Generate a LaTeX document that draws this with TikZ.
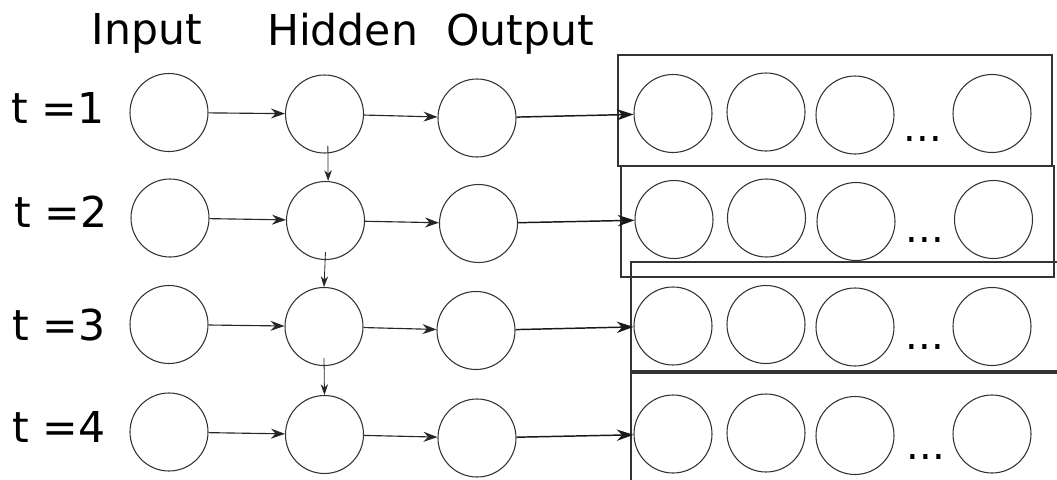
\documentclass[tikz,border=0pt]{standalone}
\usepackage{fontspec}
\setmainfont{DejaVu Sans}
\usetikzlibrary{arrows.meta}
\begin{document}
\begin{tikzpicture}[x=0.75pt,y=-0.75pt,
  neuron/.style={circle,draw=black!80,line width=0.8pt,minimum size=58.5pt,inner sep=0pt},
  lbl/.style={font=\fontsize{31.9pt}{36pt}\selectfont,anchor=base,inner sep=0pt},
  con/.style={draw=black!85,line width=0.85pt,-{Stealth[length=10.5pt,width=7.5pt,inset=3.5pt]}},
  vcon/.style={draw=black!85,line width=0.6pt,-{Stealth[length=8pt,width=5.5pt,inset=2.5pt]}},
  bcon/.style={draw=black!90,line width=1.1pt,-{Stealth[length=12.5pt,width=8.5pt,inset=4pt]}},
  layer/.style={draw=black!80,line width=1.2pt,inner sep=0pt},
  dots/.style={font=\fontsize{30pt}{30pt}\selectfont,inner sep=0pt,anchor=base}
]
\useasboundingbox (0,0) rectangle (1057,479);
\clip (0,0) rectangle (1057,479);
% output layer boxes
\node[layer,minimum width=325.5pt,minimum height=83.25pt] (box1) at (835,110.5) {};
\node[layer,minimum width=324.75pt,minimum height=83.25pt] (box2) at (837.5,221.5) {};
\node[layer,minimum width=333pt,minimum height=81.75pt] (box3) at (853,316.5) {};
\node[layer,minimum width=333pt,minimum height=95.25pt] (box4) at (853,436.5) {};
% titles
\node[lbl] (tin) at (147,44) {Input};
\node[lbl] (thid) at (342.5,45) {Hidden};
\node[lbl] (tout) at (520,45) {Output};
\node[lbl] (t1) at (58,123) {t =1};
\node[lbl] (t2) at (61,227) {t =2};
\node[lbl] (t3) at (59,340) {t =3};
\node[lbl] (t4) at (59,442) {t =4};
% main columns
\node[neuron] (in1) at (169,112.5) {};
\node[neuron] (in2) at (170,218) {};
\node[neuron] (in3) at (169,324.5) {};
\node[neuron] (in4) at (169,432) {};
\node[neuron] (h1) at (324.5,114) {};
\node[neuron] (h2) at (325.5,220.5) {};
\node[neuron] (h3) at (324,326.5) {};
\node[neuron] (h4) at (324.5,434.5) {};
\node[neuron] (o1) at (477,118) {};
\node[neuron] (o2) at (478.5,223.5) {};
\node[neuron] (o3) at (476,330.5) {};
\node[neuron] (o4) at (477,438) {};
% box neurons
\node[neuron] (b11) at (673,113.5) {};
\node[neuron] (b12) at (766,112) {};
\node[neuron] (b13) at (855,115) {};
\node[neuron] (b14) at (992,113.5) {};
\node[neuron] (b21) at (674,219.5) {};
\node[neuron] (b22) at (766.5,218) {};
\node[neuron] (b23) at (856,221.5) {};
\node[neuron] (b24) at (993.5,219.5) {};
\node[neuron] (b31) at (673,326) {};
\node[neuron] (b32) at (766,324.5) {};
\node[neuron] (b33) at (855,327) {};
\node[neuron] (b34) at (992,326.5) {};
\node[neuron] (b41) at (673,434) {};
\node[neuron] (b42) at (766,433) {};
\node[neuron] (b43) at (855,435.5) {};
\node[neuron] (b44) at (992,434) {};
\node[dots] (d1) at (923,141) {...};
\node[dots] (d2) at (925,242) {...};
\node[dots] (d3) at (925,349) {...};
\node[dots] (d4) at (926,459) {...};
% connectors
\foreach \r in {1,2,3,4}{
  \draw[con] (in\r) -- (h\r);
  \draw[con] (h\r) -- (o\r);
  \draw[bcon] (o\r) -- (b\r1);
}
\draw[vcon] ([xshift=2.5pt,yshift=6pt]h1.south) -- ([xshift=2pt]h2.north);
\draw[vcon] ([yshift=6pt]h2.south) -- (h3.north);
\draw[vcon] ([yshift=6pt]h3.south) -- (h4.north);
\end{tikzpicture}
\end{document}
